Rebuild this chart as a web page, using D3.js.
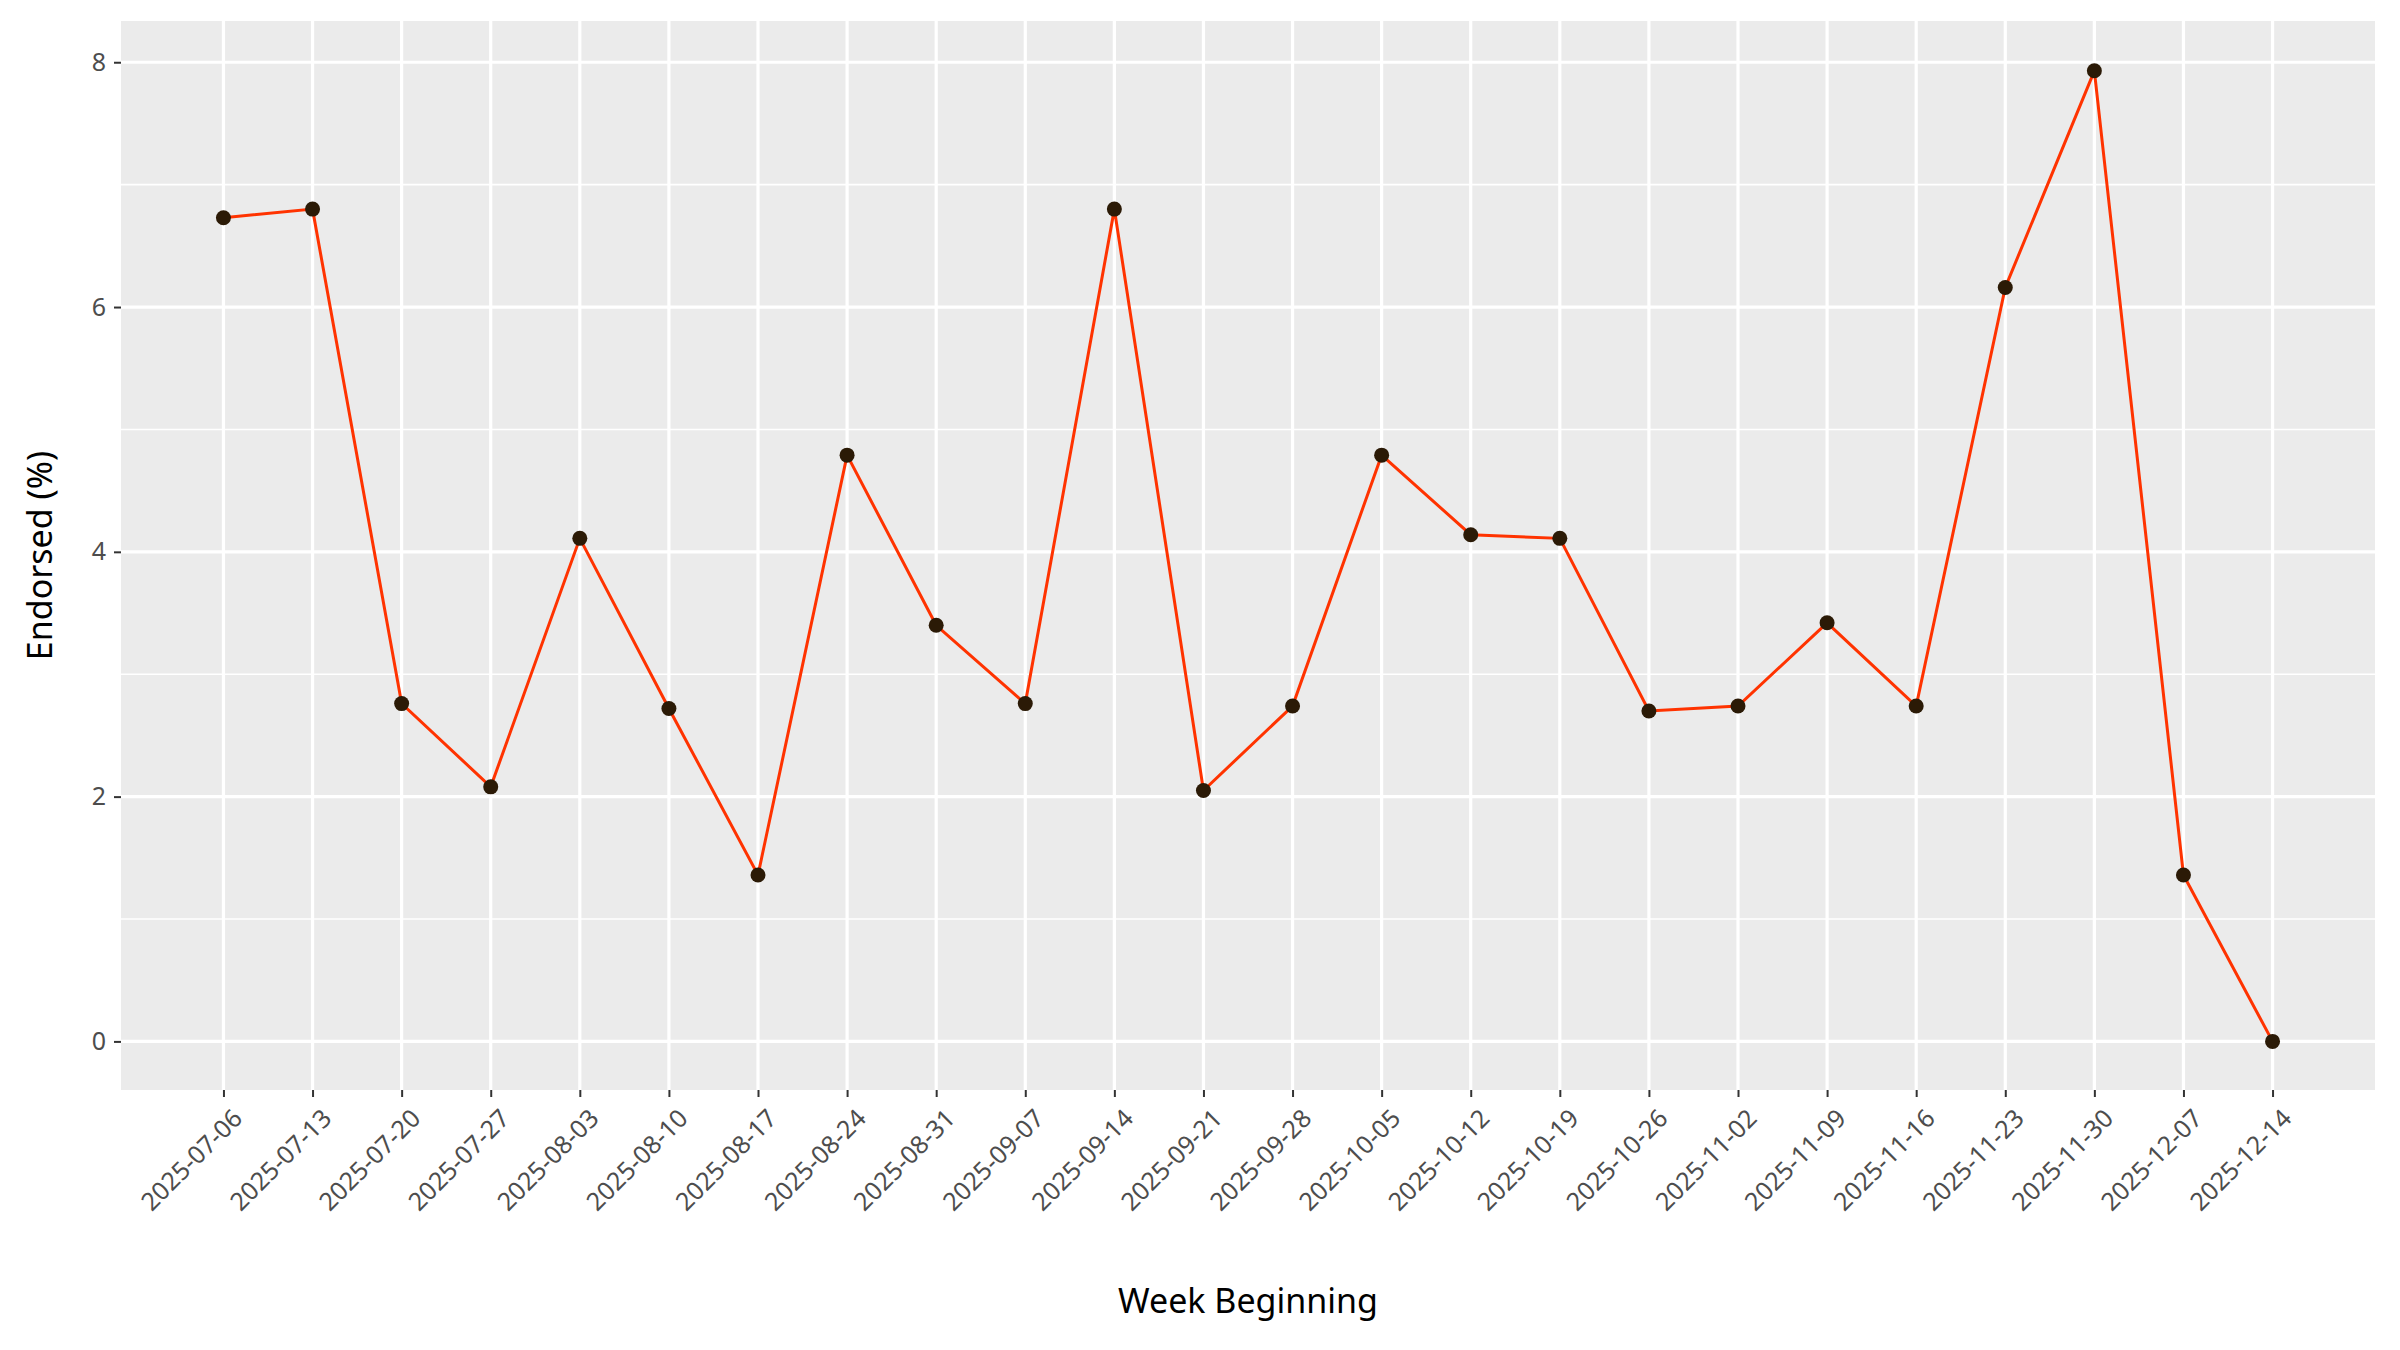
<!DOCTYPE html>
<html><head><meta charset="utf-8">
<script src="https://cdn.jsdelivr.net/npm/d3@7"></script>
<style>body{margin:0;background:#fff}svg{display:block;font-family:"Noto Sans",sans-serif}</style>
</head><body><svg id="c" width="2400" height="1350"></svg>
<script>
const weeks = ["2025-07-06","2025-07-13","2025-07-20","2025-07-27","2025-08-03","2025-08-10","2025-08-17","2025-08-24","2025-08-31","2025-09-07","2025-09-14","2025-09-21","2025-09-28","2025-10-05","2025-10-12","2025-10-19","2025-10-26","2025-11-02","2025-11-09","2025-11-16","2025-11-23","2025-11-30","2025-12-07","2025-12-14"];
const endorsed = [6.73,6.8,2.76,2.08,4.11,2.72,1.36,4.79,3.4,2.76,6.8,2.05,2.74,4.79,4.14,4.11,2.70,2.74,3.42,2.74,6.16,7.93,1.36,0];
const yTicks = [0,2,4,6,8];
const yMinor = [1,3,5,7];

const svg = d3.select("#c");
const L=121, R=2375, T=21, B=1090;
svg.append("rect").attr("x",L).attr("y",T).attr("width",R-L).attr("height",B-T).attr("fill","#ebebeb");
const x = d3.scalePoint().domain(weeks).range([L,R]).padding(1.15);
const y = d3.scaleLinear().domain([-0.397,8.337]).range([B,T]);
const g = svg.append("g");
g.selectAll(".ym").data(yMinor).join("line").attr("x1",L).attr("x2",R).attr("y1",d=>y(d)).attr("y2",d=>y(d)).attr("stroke","#fff").attr("stroke-width",1.6);
g.selectAll(".yM").data(yTicks).join("line").attr("x1",L).attr("x2",R).attr("y1",d=>y(d)).attr("y2",d=>y(d)).attr("stroke","#fff").attr("stroke-width",3.2);
g.selectAll(".xM").data(weeks).join("line").attr("y1",T).attr("y2",B).attr("x1",d=>x(d)).attr("x2",d=>x(d)).attr("stroke","#fff").attr("stroke-width",3.2);

const line = d3.line().x((d,i)=>x(weeks[i])).y(d=>y(d));
svg.append("path").datum(endorsed).attr("d",line).attr("fill","none").attr("stroke","#ff3300").attr("stroke-width",3);
svg.selectAll(".pt").data(endorsed).join("circle").attr("cx",(d,i)=>x(weeks[i])).attr("cy",d=>y(d)).attr("r",7.5).attr("fill","#2b1a06");

const ya = svg.append("g").attr("transform",`translate(${L},0)`).call(d3.axisLeft(y).tickValues(yTicks).tickSize(7).tickPadding(8).tickFormat(d3.format("d")));
const xa = svg.append("g").attr("transform",`translate(0,${B})`).call(d3.axisBottom(x).tickSize(7).tickPadding(4));
[ya,xa].forEach(a=>{a.select(".domain").remove();a.selectAll(".tick line").attr("stroke","#333").attr("stroke-width",2);
 a.selectAll("text").attr("fill","#4d4d4d").style("font-size","25px").style("font-family","Noto Sans");});
xa.selectAll("text").attr("text-anchor","end").attr("dy","0.35em").attr("transform","translate(6,16) rotate(-45)");

svg.append("text").attr("x",(L+R)/2).attr("y",1313).attr("text-anchor","middle").style("font-size","34px").text("Week Beginning");
svg.append("text").attr("transform",`translate(52,${(T+B)/2}) rotate(-90)`).attr("text-anchor","middle").style("font-size","34px").text("Endorsed (%)");
</script></body></html>
